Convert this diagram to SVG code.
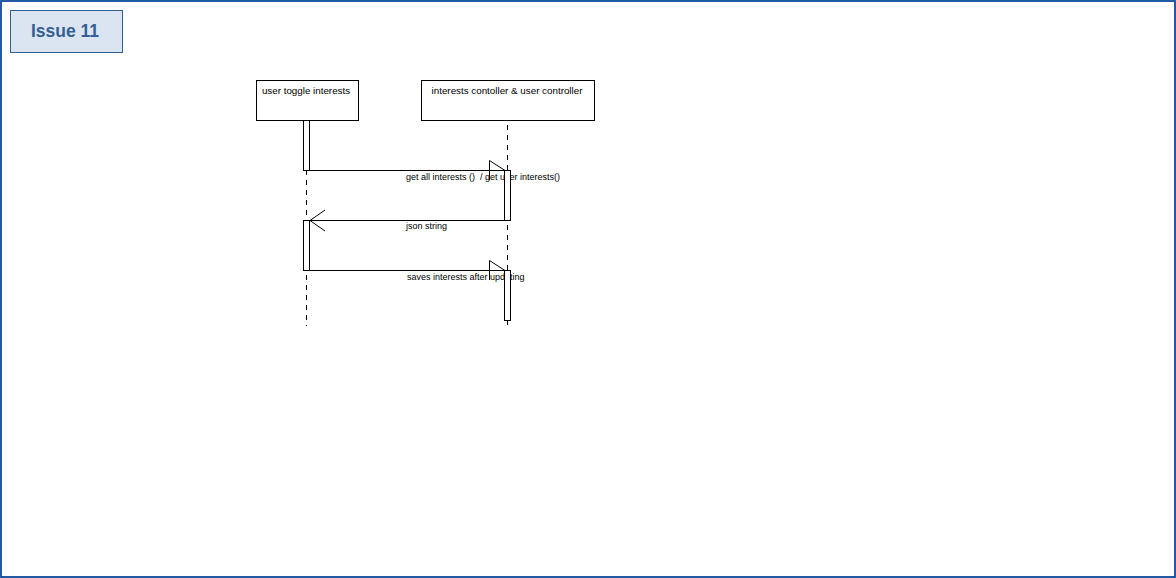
<svg xmlns="http://www.w3.org/2000/svg" width="1176" height="578" viewBox="0 0 1176 578">
<style>
.box{fill:#fff;stroke:#000;stroke-width:1}
.act{fill:#fff;stroke:#000;stroke-width:1}
.life{stroke:#000;stroke-width:1;stroke-dasharray:5,5;fill:none}
.msg{stroke:#000;stroke-width:1;fill:none}
.t{font-family:"Liberation Sans",Arial,sans-serif;font-size:9px;fill:#000}
.n{font-family:"Liberation Sans",Arial,sans-serif;font-size:9.8px;fill:#000}
</style>
<rect x="1" y="1" width="1174" height="576" fill="#fff" stroke="#0b4a9a" stroke-width="1.8"/>
<g id="title">
<rect x="10.5" y="10.5" width="112" height="42" fill="#dbe5f1" stroke="#2e5f99" stroke-width="1"/>
<text x="65" y="37" text-anchor="middle" font-family="Liberation Sans,Arial,sans-serif" font-size="17.5" font-weight="bold" fill="#345f91">Issue 11</text>
</g>
<g id="connectors">
<line class="life" x1="306.5" y1="170" x2="306.5" y2="220"/>
<line class="life" x1="306.5" y1="275" x2="306.5" y2="326"/>
<line class="life" x1="507.5" y1="125" x2="507.5" y2="170"/>
<line class="life" x1="507.5" y1="225" x2="507.5" y2="270"/>
<line class="life" x1="507.5" y1="320" x2="507.5" y2="326"/>
<line class="msg" x1="303.5" y1="170.5" x2="505" y2="170.5"/>
<path class="msg" d="M489.5,180 L489.5,160.5 L505,170.5"/>
<line class="msg" x1="310" y1="220.5" x2="510.5" y2="220.5"/>
<path class="msg" d="M325,210 L310,220.5 L325,231"/>
<line class="msg" x1="303.5" y1="270.5" x2="505" y2="270.5"/>
<path class="msg" d="M489.5,280 L489.5,260.5 L505,270.5"/>
<text class="t" x="406" y="180" xml:space="preserve">get all interests ()  / get user interests()</text>
<text class="t" x="406" y="229">json string</text>
<text class="t" x="407" y="280">saves interests after updating</text>
</g>
<g id="node1">
<rect class="box" x="256.5" y="80.5" width="102" height="40"/>
<text class="n" x="306" y="94" text-anchor="middle">user toggle interests</text>
<rect class="act" x="303.5" y="120.5" width="6" height="50"/>
<rect class="act" x="303.5" y="220.5" width="6" height="50"/>
</g>
<g id="node2">
<rect class="box" x="421.5" y="80.5" width="173" height="40"/>
<text class="n" x="507" y="94" text-anchor="middle">interests contoller &amp; user controller</text>
<rect class="act" x="504.5" y="170.5" width="6" height="50"/>
<rect class="act" x="504.5" y="270.5" width="6" height="50"/>
</g>
</svg>
